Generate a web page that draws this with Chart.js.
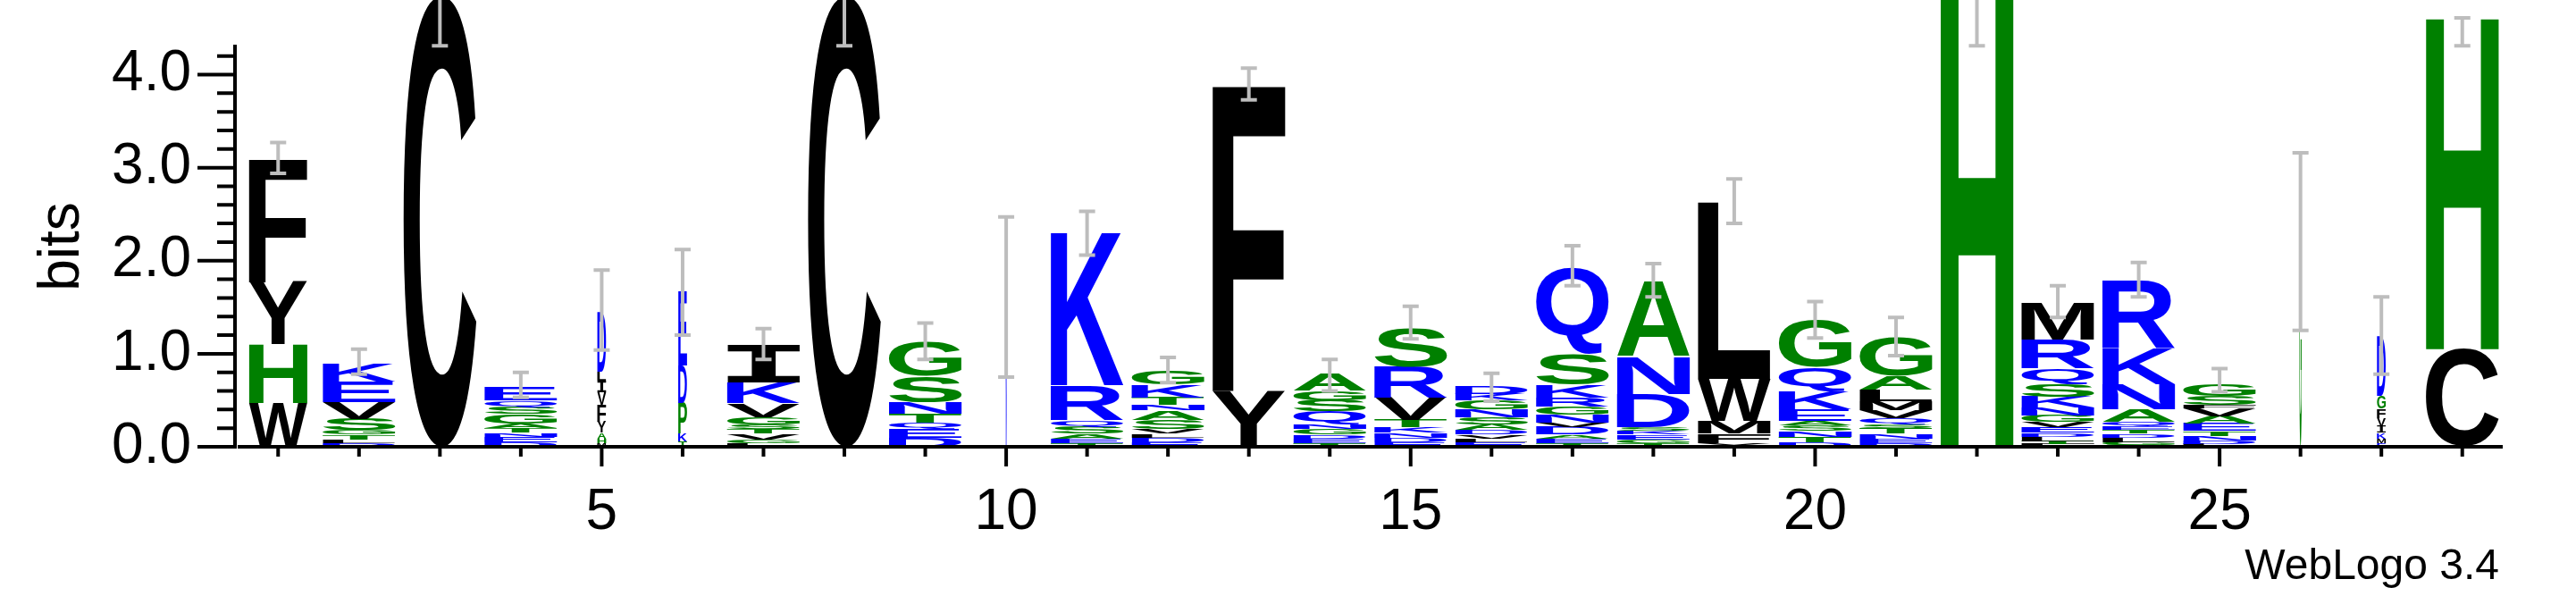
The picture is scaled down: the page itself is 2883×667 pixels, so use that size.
<!DOCTYPE html>
<html>
<head>
<meta charset="utf-8">
<script src="https://cdn.jsdelivr.net/npm/chart.js@4/dist/chart.umd.min.js"></script>
<style>
  html, body { margin: 0; padding: 0; background: #fff; }
  #wrap { width: 2883px; height: 667px; }
</style>
</head>
<body>
<div id="wrap"><canvas id="logo" width="2883" height="667"></canvas></div>
<script>
// sequence positions 1..28, letters bottom -> top with heights in bits
var positions = [];
for (var p = 1; p <= 28; p++) positions.push(p);

var letters = [
  ["W","H","Y","F"],
  ["D","L","T","G","S","V","E","K"],
  ["C"],
  ["D","E","N","T","A","G","S","Q","E"],
  ["M","H","A","Y","F","V","I","L","D"],
  ["T","K","P","D","E"],
  ["L","G","V","T","S","G","V","K","I"],
  ["C"],
  ["D","E","Q","T","N","S","G"],
  ["N"],
  ["T","E","A","S","Q","R","K"],
  ["E","D","L","V","S","A","N","T","K","G"],
  ["Y","F"],
  ["T","E","D","G","N","Q","S","G","A"],
  ["E","D","N","K","T","V","R","S"],
  ["E","L","V","D","A","S","N","G","K","D"],
  ["T","E","A","D","V","N","G","R","K","S","Q"],
  ["T","G","E","K","S","D","N","A"],
  ["Y","F","M","W","L"],
  ["D","T","N","S","A","E","K","Q","G"],
  ["D","E","N","T","S","Q","V","M","L","A","G"],
  ["H"],
  ["F","T","L","D","E","V","G","N","K","S","Q","R","M"],
  ["S","G","L","D","T","E","Q","A","N","K","R"],
  ["L","D","N","T","E","A","V","F","S","G"],
  ["G"],
  ["E","M","K","I","V","F","G","D"],
  ["C","H"]
];

var heights = [
  [0.47,0.63,0.67,1.33],
  [0.04,0.04,0.05,0.05,0.12,0.18,0.22,0.20],
  [4.85],
  [0.05,0.06,0.04,0.05,0.05,0.10,0.08,0.07,0.15],
  [0.04,0.05,0.06,0.12,0.18,0.14,0.12,0.10,0.64],
  [0.06,0.08,0.33,0.40,0.80],
  [0.04,0.04,0.06,0.05,0.05,0.08,0.15,0.22,0.40],
  [4.85],
  [0.10,0.10,0.06,0.10,0.12,0.28,0.36],
  [1.60],
  [0.04,0.05,0.05,0.08,0.07,0.37,1.65],
  [0.05,0.05,0.04,0.05,0.10,0.10,0.06,0.08,0.14,0.15],
  [0.60,3.30],
  [0.04,0.05,0.04,0.06,0.05,0.14,0.12,0.10,0.18],
  [0.05,0.05,0.05,0.06,0.08,0.24,0.33,0.42],
  [0.05,0.04,0.04,0.05,0.06,0.08,0.08,0.10,0.07,0.08],
  [0.04,0.05,0.04,0.08,0.05,0.08,0.09,0.10,0.14,0.33,0.93],
  [0.04,0.04,0.05,0.04,0.04,0.36,0.40,0.80],
  [0.04,0.10,0.14,0.45,1.90],
  [0.05,0.06,0.06,0.06,0.05,0.12,0.20,0.26,0.50],
  [0.04,0.05,0.05,0.06,0.04,0.07,0.08,0.10,0.12,0.15,0.42],
  [4.85],
  [0.03,0.03,0.05,0.04,0.06,0.06,0.07,0.08,0.12,0.14,0.16,0.31,0.40],
  [0.02,0.03,0.05,0.04,0.04,0.04,0.05,0.13,0.27,0.38,0.73],
  [0.03,0.04,0.05,0.05,0.08,0.08,0.08,0.04,0.10,0.12],
  [2.20],
  [0.04,0.05,0.06,0.07,0.09,0.10,0.14,0.64],
  [1.05,3.58]
];

// relative width of each column (narrow where most sequences have gaps)
var widths = [0.8,1,1,1,0.12,0.12,1,1,1,0.015,1,1,1,1,1,1,1,1,1,1,1,1,1,1,1,0.03,0.12,1];

var errLow  = [2.94,0.78,4.31,0.53,1.04,1.20,0.94,4.31,0.94,0.75,2.06,0.69,3.73,0.60,1.16,0.49,1.73,1.61,2.40,1.17,0.98,4.31,1.39,1.61,0.59,1.25,0.78,4.31];
var errHigh = [3.27,1.05,5.40,0.80,1.90,2.12,1.27,5.40,1.33,2.47,2.53,0.96,4.07,0.94,1.51,0.79,2.16,1.97,2.88,1.56,1.39,5.40,1.73,1.98,0.84,3.16,1.61,4.61];

var yTicks = [0, 1, 2, 3, 4];
var xTicks = [5, 10, 15, 20, 25];
var Y_MAX = 4.3219;

var GREEN = "#008000", BLUE = "#0000ff", BLACK = "#000000";
var colorOf = {H:GREEN,G:GREEN,S:GREEN,A:GREEN,P:GREEN,T:GREEN,
               K:BLUE,R:BLUE,E:BLUE,Q:BLUE,N:BLUE,D:BLUE};

function drawGlyph(ctx, ch, left, right, top, bottom) {
    var w = right - left, h = bottom - top;
    if (w <= 0 || h <= 0.3) return;
    ctx.save();
    // serif I like the WebLogo font, everything else sans bold
    ctx.font = ch === "I" ? "bold 200px 'DejaVu Sans Mono', monospace"
                          : "bold 200px 'Liberation Sans', Arial, sans-serif";
    var m = ctx.measureText(ch);
    var gl = m.actualBoundingBoxLeft, gr = m.actualBoundingBoxRight;
    var ga = m.actualBoundingBoxAscent, gd = m.actualBoundingBoxDescent;
    var gw = gl + gr, gh = ga + gd;
    ctx.translate(left, top);
    ctx.scale(w / gw, h / gh);
    ctx.fillStyle = colorOf[ch] || BLACK;
    ctx.textBaseline = "alphabetic";
    ctx.fillText(ch, gl, ga);
    ctx.restore();
}

var logoPlugin = {
    id: 'logo',
    afterDraw: function (chart) {
        var ctx = chart.ctx;
        var xs = chart.scales.x, ys = chart.scales.y;
        var y0 = ys.getPixelForValue(0);
        var yTop = ys.getPixelForValue(Y_MAX);
        var xl = xs.getPixelForValue(0.5), xr = xs.getPixelForValue(28.5);

        // letters
        for (var i = 0; i < positions.length; i++) {
            var pos = positions[i];
            var half = 0.45 * widths[i];
            var left = xs.getPixelForValue(pos - half);
            var right = xs.getPixelForValue(pos + half);
            var acc = 0;
            for (var j = 0; j < letters[i].length; j++) {
                var h = heights[i][j];
                drawGlyph(ctx, letters[i][j], left, right,
                          ys.getPixelForValue(acc + h), ys.getPixelForValue(acc));
                acc += h;
            }
        }

        // error bars
        ctx.save();
        ctx.strokeStyle = "#bdbdbd";
        ctx.lineWidth = 4;
        for (var i = 0; i < positions.length; i++) {
            var cx = xs.getPixelForValue(positions[i]);
            var a = ys.getPixelForValue(errLow[i]), b = ys.getPixelForValue(errHigh[i]);
            ctx.beginPath();
            ctx.moveTo(cx, a); ctx.lineTo(cx, b);
            ctx.moveTo(cx - 9, a); ctx.lineTo(cx + 9, a);
            ctx.moveTo(cx - 9, b); ctx.lineTo(cx + 9, b);
            ctx.stroke();
        }
        ctx.restore();

        // axes
        ctx.save();
        ctx.strokeStyle = "#000";
        ctx.lineWidth = 4;
        var ax = xl - 3;
        ctx.beginPath();
        ctx.moveTo(ax, y0 + 2); ctx.lineTo(ax, yTop);
        ctx.moveTo(ax + 3, y0); ctx.lineTo(xr, y0);
        for (var v = 0; v <= 42; v += 2) {
            var yy = ys.getPixelForValue(v / 10);
            ctx.moveTo(ax, yy);
            ctx.lineTo(ax - (v % 10 === 0 ? 42 : 20), yy);
        }
        for (var p = 1; p <= 28; p++) {
            var px = xs.getPixelForValue(p);
            ctx.moveTo(px, y0);
            ctx.lineTo(px, y0 + (p % 5 === 0 ? 22 : 11));
        }
        ctx.stroke();
        ctx.restore();

        // texts
        ctx.save();
        ctx.fillStyle = "#000";
        ctx.font = "64px 'Liberation Sans', Arial, sans-serif";
        ctx.translate(70, 276);
        ctx.rotate(-Math.PI / 2);
        ctx.textAlign = "center";
        ctx.textBaseline = "middle";
        ctx.fillText("bits", 0, 0);
        ctx.restore();

        ctx.save();
        ctx.fillStyle = "#000";
        ctx.font = "48px 'Liberation Sans', Arial, sans-serif";
        ctx.textAlign = "right";
        ctx.textBaseline = "alphabetic";
        ctx.fillText("WebLogo 3.4", 2797, 648);
        ctx.restore();
    }
};

var tickFont = { family: "'Liberation Sans', Arial, sans-serif", size: 64 };

var chart = new Chart(document.getElementById('logo').getContext('2d'), {
    type: 'scatter',
    data: { datasets: [{ data: [], pointRadius: 0 }] },
    options: {
        responsive: false,
        devicePixelRatio: 1,
        animation: false,
        layout: { padding: { top: 50, right: 82, left: 0, bottom: 0 } },
        plugins: { legend: { display: false }, tooltip: { enabled: false } },
        scales: {
            x: {
                type: 'linear', min: 0.5, max: 28.5, bounds: 'data',
                grid: { display: false, drawTicks: false },
                border: { display: false },
                afterBuildTicks: function (s) {
                    s.ticks = xTicks.map(function (v) { return { value: v }; });
                },
                afterFit: function (s) {
                    s.height = 167; s.paddingLeft = 0; s.paddingRight = 0;
                },
                ticks: { color: '#000', font: tickFont, padding: 36, maxRotation: 0,
                         callback: function (v) { return String(v); } }
            },
            y: {
                type: 'linear', min: 0, max: Y_MAX, bounds: 'data',
                grid: { display: false, drawTicks: false },
                border: { display: false },
                afterBuildTicks: function (s) {
                    s.ticks = yTicks.map(function (v) { return { value: v }; });
                },
                afterFit: function (s) {
                    s.width = 266; s.paddingTop = 0; s.paddingBottom = 0;
                },
                ticks: { color: '#000', font: tickFont, padding: 52,
                         callback: function (v) { return Number(v).toFixed(1); } }
            }
        }
    },
    plugins: [logoPlugin]
});
</script>
</body>
</html>
